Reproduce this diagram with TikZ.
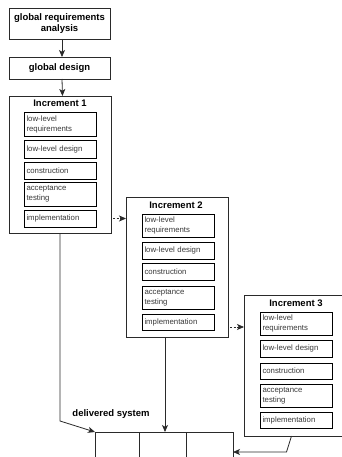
\documentclass[tikz,border=0pt]{standalone}
\usepackage{fontspec}
\setmainfont{Liberation Sans}
\usetikzlibrary{arrows.meta,calc}
\definecolor{linegray}{HTML}{2A2A2A}
\definecolor{textgray}{HTML}{383838}
\begin{document}
\begin{tikzpicture}[x=1pt,y=-1pt,
  every node/.style={inner sep=0pt,outer sep=0pt},
  phasebox/.style={draw=linegray,line width=0.9pt,anchor=north west,minimum width=101pt,
    font=\fontsize{9.5}{11}\selectfont\bfseries,align=center},
  incbox/.style={draw=linegray,line width=0.75pt,anchor=north west,minimum width=102pt},
  inctitle/.style={font=\fontsize{9.5}{11}\selectfont\bfseries},
  stepbox/.style={draw=black,line width=0.9pt,anchor=north west,text width=67pt,
    inner xsep=2.5pt,align=left,font=\fontsize{7.8}{10}\selectfont,text=textgray},
  cellbox/.style={draw=linegray,line width=0.75pt,anchor=north west,minimum height=30pt},
  flow/.style={draw=linegray,line width=0.8pt,-{Stealth[length=7pt,width=6pt,inset=1.8pt]}},
  dashflow/.style={flow,dash pattern=on 2pt off 1.5pt,shorten <=2pt}
]
\clip (0,0) rectangle (342,457);

% global phases
\node[phasebox,minimum height=31pt] (ga) at (9,8) {global requirements\\analysis};
\node[phasebox,minimum height=22pt] (gd) at (9,57) {global design};

% increment 1
\node[incbox,minimum height=137pt] (inc1) at (9,96) {};
\node[inctitle] (inc1t) at (60,103) {Increment 1};
\node[stepbox,minimum height=24pt] (inc1req) at (24,112) {low-level\\requirements};
\node[stepbox,minimum height=18pt] (inc1des) at (24,140) {low-level design};
\node[stepbox,minimum height=17pt] (inc1con) at (24,162) {construction};
\node[stepbox,minimum height=24pt] (inc1acc) at (24,182) {acceptance\\testing};
\node[stepbox,minimum height=17pt] (inc1imp) at (24,210) {implementation};

% increment 2
\node[incbox,minimum height=140pt] (inc2) at (126,197) {};
\node[inctitle] (inc2t) at (176,205) {Increment 2};
\node[stepbox,minimum height=23pt] (inc2req) at (142,214) {low-level\\requirements};
\node[stepbox,minimum height=17pt] (inc2des) at (142,242) {low-level design};
\node[stepbox,minimum height=17pt] (inc2con) at (142,263) {construction};
\node[stepbox,minimum height=23pt] (inc2acc) at (142,286) {acceptance\\testing};
\node[stepbox,minimum height=16pt] (inc2imp) at (142,314) {implementation};

% increment 3
\node[incbox,minimum height=141pt,minimum width=104pt] (inc3) at (244,295) {};
\node[inctitle] (inc3t) at (296,303) {Increment 3};
\node[stepbox,minimum height=23pt] (inc3req) at (260,312) {low-level\\requirements};
\node[stepbox,minimum height=17pt] (inc3des) at (260,340) {low-level design};
\node[stepbox,minimum height=16pt] (inc3con) at (260,363) {construction};
\node[stepbox,minimum height=23pt] (inc3acc) at (260,384) {acceptance\\testing};
\node[stepbox,minimum height=16pt] (inc3imp) at (260,412) {implementation};

% delivered system
\node[font=\fontsize{9.5}{11}\selectfont\bfseries] (dlabel) at (111,414) {delivered system};
\node[cellbox,minimum width=44pt] (cell1) at (95,432) {};
\node[cellbox,minimum width=47pt] (cell2) at (139,432) {};
\node[cellbox,minimum width=47pt] (cell3) at (186,432) {};

% connectors
\draw[flow] ([xshift=2.5pt]ga.south) -- ([xshift=2.5pt]gd.north);
\draw[flow] ([xshift=2.5pt]gd.south) -- ([xshift=2.5pt]inc1.north);
\draw[dashflow] (inc1.east |- inc1imp.east) -- (inc2.west |- inc1imp.east);
\draw[dashflow] ($(inc2.east |- inc2imp.east)+(0,5)$) -- ($(inc3.west |- inc2imp.east)+(0,5)$);
\draw[flow] (inc1.south) -- ++(0,188) -- (cell1.north west);
\draw[flow] ([xshift=2.5pt]cell2.north |- inc2.south) -- ([xshift=2.5pt]cell2.north);
\draw[flow] ([xshift=-4.5pt]inc3.south) -- ++(-5,16) coordinate (bend3) -- (bend3 -| cell3.east);
\end{tikzpicture}
\end{document}
